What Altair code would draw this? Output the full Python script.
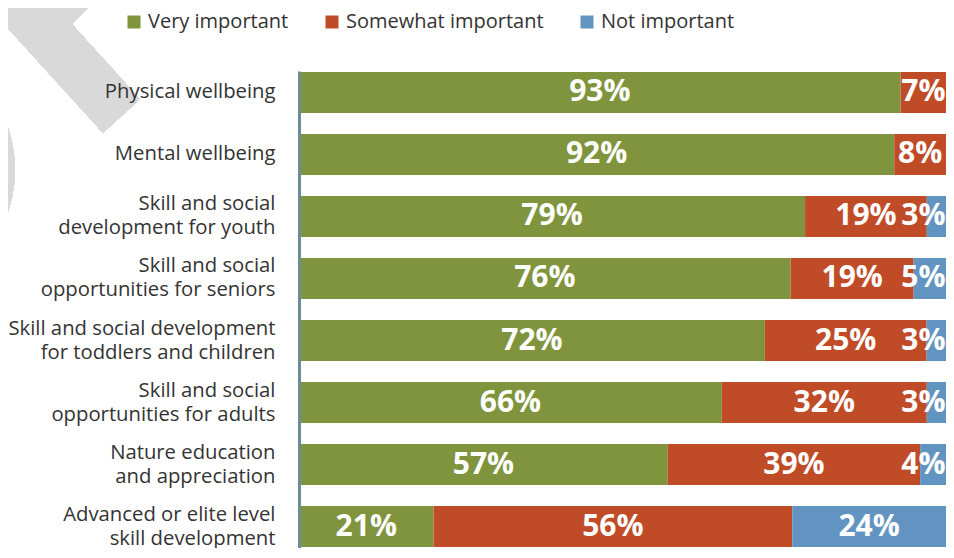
import altair as alt
import pandas as pd

categories = [
    "Physical wellbeing",
    "Mental wellbeing",
    "Skill and social\ndevelopment for youth",
    "Skill and social\nopportunities for seniors",
    "Skill and social development\nfor toddlers and children",
    "Skill and social\nopportunities for adults",
    "Nature education\nand appreciation",
    "Advanced or elite level\nskill development",
]
levels = ["Very important", "Somewhat important", "Not important"]
very_important = [93, 92, 79, 76, 72, 66, 57, 21]
somewhat_important = [7, 8, 19, 19, 25, 32, 39, 56]
not_important = [0, 0, 3, 5, 3, 3, 4, 24]
colors = ["#7F943C", "#C04B27", "#6194C0"]

rows = []
for i, cat in enumerate(categories):
    for j, (lev, vals) in enumerate(zip(levels, [very_important, somewhat_important, not_important])):
        rows.append({"category": cat, "level": lev, "order": j, "value": vals[i]})
df = pd.DataFrame(rows)

FONT = "Open Sans"

base = (
    alt.Chart(df)
    .transform_joinaggregate(total="sum(value)", groupby=["category"])
    .transform_calculate(pct="datum.value / datum.total * 100")
    .transform_window(cum="sum(pct)", sort=[alt.SortField("order")], groupby=["category"], frame=[None, 0])
    .transform_calculate(
        start="datum.cum - datum.pct",
        labx="min(datum.cum - datum.pct / 2, 96.5)",
        lbl="datum.value + '%'",
    )
)

y_enc = alt.Y(
    "category:N",
    sort=categories,
    scale=alt.Scale(paddingInner=0.339, paddingOuter=0.016),
    axis=alt.Axis(
        title=None,
        labelFont=FONT,
        labelFontSize=20.3,
        labelColor="#333333",
        labelPadding=24,
        labelLineHeight=24,
        labelLimit=400,
        labelExpr="split(datum.label, '\\n')",
        labelOffset={"condition": {"test": "indexof(datum.value, '\\n') >= 0", "value": -12}, "value": 0},
        ticks=False,
        tickSize=0,
        domainColor="#6E8B9C",
        domainWidth=3,
        zindex=1,
    ),
)
x_scale = alt.Scale(domain=[0, 100], nice=False, zero=True)

bars = base.mark_bar().encode(
    y=y_enc,
    x=alt.X("start:Q", scale=x_scale, axis=None),
    x2="cum:Q",
    color=alt.Color(
        "level:N",
        scale=alt.Scale(domain=levels, range=colors),
        legend=alt.Legend(
            title=None,
            orient="none",
            direction="horizontal",
            legendX=-175,
            legendY=-59,
            padding=0,
            symbolType="square",
            symbolSize=169,
            symbolStrokeWidth=0,
            labelFont=FONT,
            labelFontSize=20,
            labelColor="#333333",
            labelOffset=4,
            columnPadding=33,
            labelLimit=400,
        ),
    ),
)

texts = base.transform_filter("datum.value > 0").mark_text(
    font=FONT, fontWeight="bold", fontSize=30, color="white", align="center", baseline="middle"
).encode(
    y=alt.Y("category:N", sort=categories),
    x=alt.X("labx:Q", scale=x_scale),
    text="lbl:N",
)

# decorative grey watermark shape in the top-left corner
deco_band = alt.Chart(df).mark_rule(color="#D9D9D9", strokeWidth=50, strokeCap="butt").encode(
    x=alt.value(-312), y=alt.value(-103), x2=alt.value(-177.5), y2=alt.value(45)
)
deco_arm = alt.Chart(df).mark_rule(color="#D9D9D9", strokeWidth=50, strokeCap="butt").encode(
    x=alt.value(-259), y=alt.value(-50.6), x2=alt.value(-195), y2=alt.value(-115)
)
deco_circle = alt.Chart(df).mark_point(shape="circle", filled=True, color="#D9D9D9", opacity=1, size=65025).encode(
    x=alt.value(-411.5), y=alt.value(99)
)

chart = (
    alt.layer(deco_band, deco_arm, deco_circle, bars, texts)
    .properties(
        width=647,
        height=477,
        autosize=alt.AutoSizeParams(type="none"),
        padding={"left": 291, "top": 63, "right": 0, "bottom": 0},
        background="white",
    )
    .configure_view(stroke=None)
)

chart.save("out.html", embed_options={"renderer": "svg", "actions": False})
